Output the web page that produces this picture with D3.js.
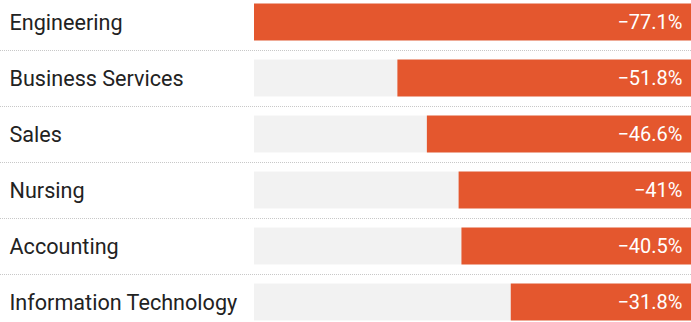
<!DOCTYPE html>
<html>
<head>
<meta charset="utf-8">
<script src="https://cdn.jsdelivr.net/npm/d3@7"></script>
<style>
  html, body { margin: 0; padding: 0; background: #fff; }
  svg { display: block; font-family: Roboto, "Noto Sans", sans-serif; }
</style>
</head>
<body>
<svg id="chart" width="691" height="322"></svg>
<script>
// Change in share, by occupation group (percent)
const categories = ["Engineering", "Business Services", "Sales", "Nursing", "Accounting", "Information Technology"];
const values = [-77.1, -51.8, -46.6, -41, -40.5, -31.8];
const valueLabels = ["\u221277.1%", "\u221251.8%", "\u221246.6%", "\u221241%", "\u221240.5%", "\u221231.8%"];

const width = 691, height = 322;
const barLeft = 254, barRight = 691;
const svg = d3.select("#chart");

const y = d3.scaleBand()
  .domain(categories)
  .range([-6, 330])
  .paddingInner(0.34)
  .paddingOuter(0.17);

// Bars grow leftwards from the right edge
const x = d3.scaleLinear()
  .domain([0, d3.max(values, v => Math.abs(v))])
  .range([barRight, barLeft]);

const rows = svg.selectAll("g.row")
  .data(categories.map((c, i) => ({ c, v: values[i], label: valueLabels[i], i })))
  .join("g")
  .attr("class", "row");

// dotted separators between rows
svg.selectAll("line.sep")
  .data(categories.slice(1))
  .join("line")
  .attr("class", "sep")
  .attr("x1", 0).attr("x2", width)
  .attr("y1", d => Math.round(y(d) - y.step() * y.paddingInner() / 2) + 0.5)
  .attr("y2", d => Math.round(y(d) - y.step() * y.paddingInner() / 2) + 0.5)
  .attr("stroke", "#c8c8c8")
  .attr("stroke-width", 1)
  .attr("stroke-dasharray", "1,1");

rows.append("rect")
  .attr("x", barLeft)
  .attr("y", d => y(d.c))
  .attr("width", barRight - barLeft)
  .attr("height", y.bandwidth())
  .attr("fill", "#f2f2f2");

rows.append("rect")
  .attr("x", d => x(Math.abs(d.v)))
  .attr("y", d => y(d.c))
  .attr("width", d => barRight - x(Math.abs(d.v)))
  .attr("height", y.bandwidth())
  .attr("fill", "#e4572e");

rows.append("text")
  .attr("x", 9.5)
  .attr("y", d => y(d.c) + y.bandwidth() / 2)
  .attr("dy", "0.38em")
  .attr("fill", "#222")
  .attr("font-size", 21.6)
  .text(d => d.c);

rows.append("text")
  .attr("x", barRight - 8.5)
  .attr("y", d => y(d.c) + y.bandwidth() / 2)
  .attr("dy", "0.37em")
  .attr("text-anchor", "end")
  .attr("fill", "#fff")
  .attr("font-size", 20)
  .text(d => d.label);
</script>
</body>
</html>
